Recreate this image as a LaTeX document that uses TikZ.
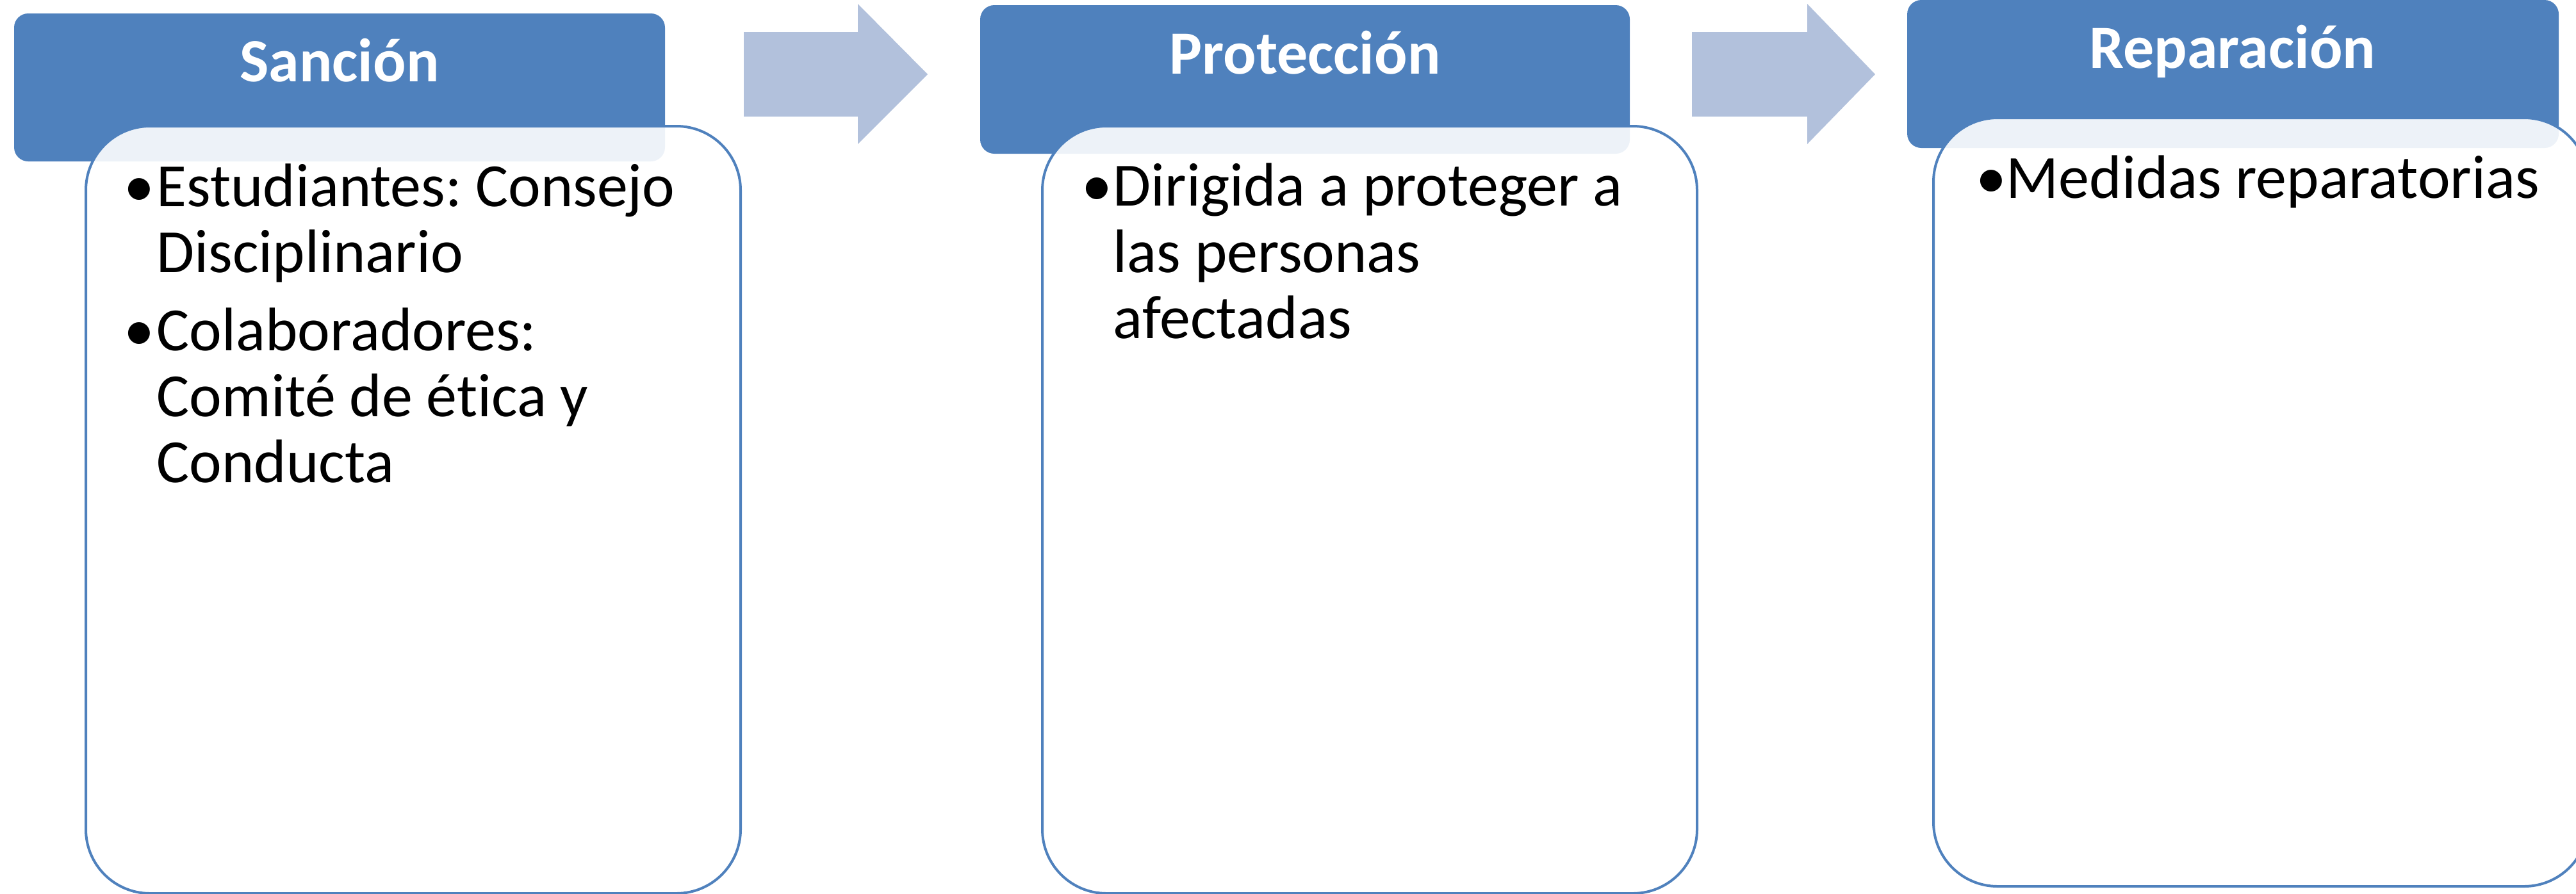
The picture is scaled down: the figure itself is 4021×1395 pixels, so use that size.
\documentclass[tikz,border=0pt]{standalone}
\usepackage{fontspec}
\setmainfont{Carlito}[Ligatures={NoCommon}]
\frenchspacing
\definecolor{hdr}{RGB}{79,129,189}
\definecolor{arr}{RGB}{178,193,220}
\begin{document}
\begin{tikzpicture}[x=0.25pt,y=-0.25pt,
  hdrbox/.style={fill=hdr, draw=none, rounded corners=5.5pt},
  bodybox/.style={draw=hdr, line width=1pt, fill=white, fill opacity=0.9, rounded corners=25pt},
  arrowshape/.style={fill=arr, draw=none},
  htext/.style={font=\bfseries\fontsize{24}{29}\selectfont, text=white, inner sep=0pt, anchor=base},
  btext/.style={font=\fontsize{24}{26}\selectfont\frenchspacing, text=black, inner sep=0pt, anchor=base west},
  bul/.style={font=\fontsize{24}{26}\selectfont, text=black, inner sep=0pt, anchor=base}]
\useasboundingbox (0,0) rectangle (4021,1395);
% block arrows
\fill[arrowshape] (1161,50) -- (1339,50) -- (1339,6) -- (1448,116) -- (1339,225) -- (1339,182) -- (1161,182) -- cycle;
\fill[arrowshape] (2641,50) -- (2821,50) -- (2821,6) -- (2927,116) -- (2821,225) -- (2821,182) -- (2641,182) -- cycle;
% headers
\fill[hdrbox] (22,21) rectangle (1038,252);
\fill[hdrbox] (1530,8) rectangle (2544,240);
\fill[hdrbox] (2977,0) rectangle (3994,231);
% bodies
\path[bodybox] (134,197) rectangle (1156,1395);
\path[bodybox] (1627,197) rectangle (2649,1395);
\path[bodybox] (3018,184) rectangle (4040,1384);
% header titles
\node[htext] (t1) at (530,127) {Sanción};
\node[htext] (t2) at (2037,115) {Protección};
\node[htext] (t3) at (3485,106) {Reparación};
% body 1
\node[bul] (b1a) at (217,322) {•};
\node[btext] (l11) at (244,322) {Estudiantes: Consejo};
\node[btext] (l12) at (244,425) {Disciplinario};
\node[bul] (b1b) at (217,547) {•};
\node[btext] (l13) at (244,547) {Colaboradores:};
\node[btext] (l14) at (244,650) {Comité de ét\kern0pt ica y};
\node[btext] (l15) at (244,753) {Conducta};
% body 2
\node[bul] (b2a) at (1712,321) {•};
\node[btext] (l21) at (1737,321) {Dirigida a proteger a};
\node[btext] (l22) at (1737,425) {las personas};
\node[btext] (l23) at (1737,528) {afectadas};
% body 3
\node[bul] (b3a) at (3108,309) {•};
\node[btext] (l31) at (3131,309) {Medidas reparatorias};
\end{tikzpicture}
\end{document}
